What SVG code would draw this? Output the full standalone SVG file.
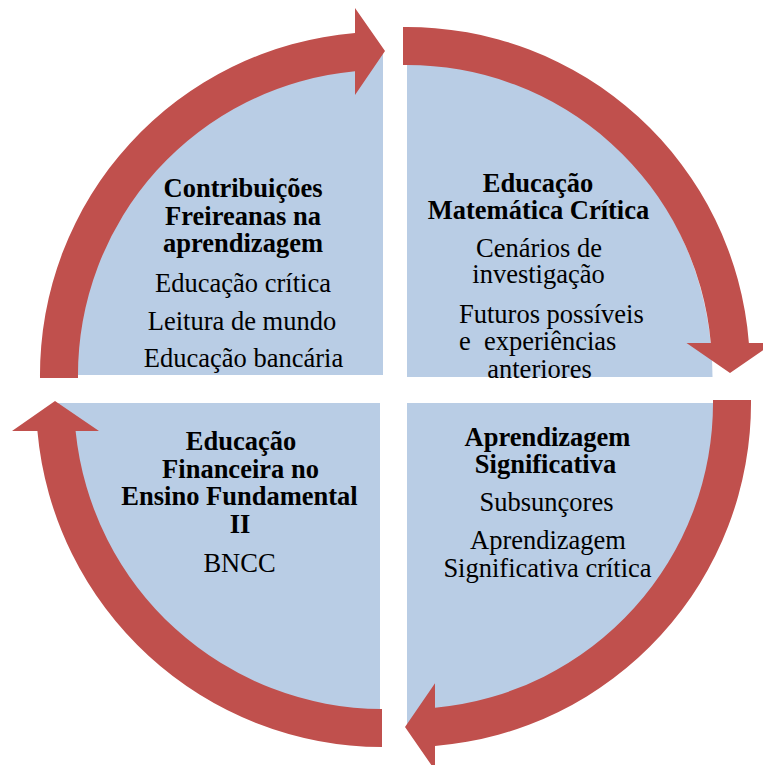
<svg xmlns="http://www.w3.org/2000/svg" width="763" height="765" viewBox="0 0 763 765">
<style>
.q{fill:#B9CDE5;}
.arr{fill:#C0504D;}
text{font-family:"Liberation Serif","Times New Roman",serif;font-size:26.5px;fill:#000;text-anchor:middle;}
.b{font-weight:bold;}
</style>
<rect width="763" height="765" fill="#fff"/>
<g id="node-freire">
<path class="q" d="M 383,375 L 59,375 A 324 324 0 0 1 383,51 Z"/>
<text class="b" x="243" y="197.3">Contribuições</text>
<text class="b" x="243" y="225">Freireanas na</text>
<text class="b" x="243" y="252.3">aprendizagem</text>
<text x="243" y="291.7">Educação crítica</text>
<text x="242" y="330">Leitura de mundo</text>
<text x="243.5" y="367.3">Educação bancária</text>
</g>
<g id="node-emc">
<path class="q" d="M 407,377 L 407,57 A 305.5 320 0 0 1 712.5,377 Z"/>
<text class="b" x="538" y="191.5">Educação</text>
<text class="b" x="538.5" y="219">Matemática Crítica</text>
<text x="539" y="256.5">Cenários de</text>
<text x="538.5" y="283">investigação</text>
<text x="459" y="323" style="text-anchor:start">Futuros possíveis</text>
<text x="459" y="350" style="text-anchor:start" xml:space="preserve">e  experiências</text>
<text x="539.5" y="377.5">anteriores</text>
</g>
<g id="node-as">
<path class="q" d="M 407,403 L 732,403 A 325 325 0 0 1 407,728 Z"/>
<text class="b" x="547.5" y="446">Aprendizagem</text>
<text class="b" x="545.5" y="473">Significativa</text>
<text x="546.5" y="511">Subsunçores</text>
<text x="548" y="549">Aprendizagem</text>
<text x="547.5" y="577">Significativa crítica</text>
</g>
<g id="node-ef">
<path class="q" d="M 380,403 L 380,727 A 324 324 0 0 1 56,403 Z"/>
<text class="b" x="241" y="450">Educação</text>
<text class="b" x="240.5" y="477.5">Financeira no</text>
<text class="b" x="239.5" y="505">Ensino Fundamental</text>
<text class="b" x="240" y="532.5">II</text>
<text x="239.5" y="572">BNCC</text>
</g>
<g id="connectors">
<path class="arr" d="M 40,378 A 343 343 0 0 1 355,33.1 L 355,8 L 385,51 L 355,95 L 355,71.3 A 305 305 0 0 0 78,378 Z"/>
<path class="arr" d="M 403,27 A 343 343 0 0 1 748.9,343 L 773.5,343 L 730,373 L 686.5,343 L 710.8,343 A 305 305 0 0 0 403,65 Z"/>
<path class="arr" d="M 751,400 A 344 344 0 0 1 435,745.9 L 435,770.3 L 405,727 L 435,683.3 L 435,707.7 A 306 306 0 0 0 713,400 Z"/>
<path class="arr" d="M 382,747 A 347 347 0 0 1 37.4,431 L 12,431 L 55,401 L 99,431 L 75.6,431 A 309 309 0 0 0 382,709 Z"/>
</g>
</svg>
